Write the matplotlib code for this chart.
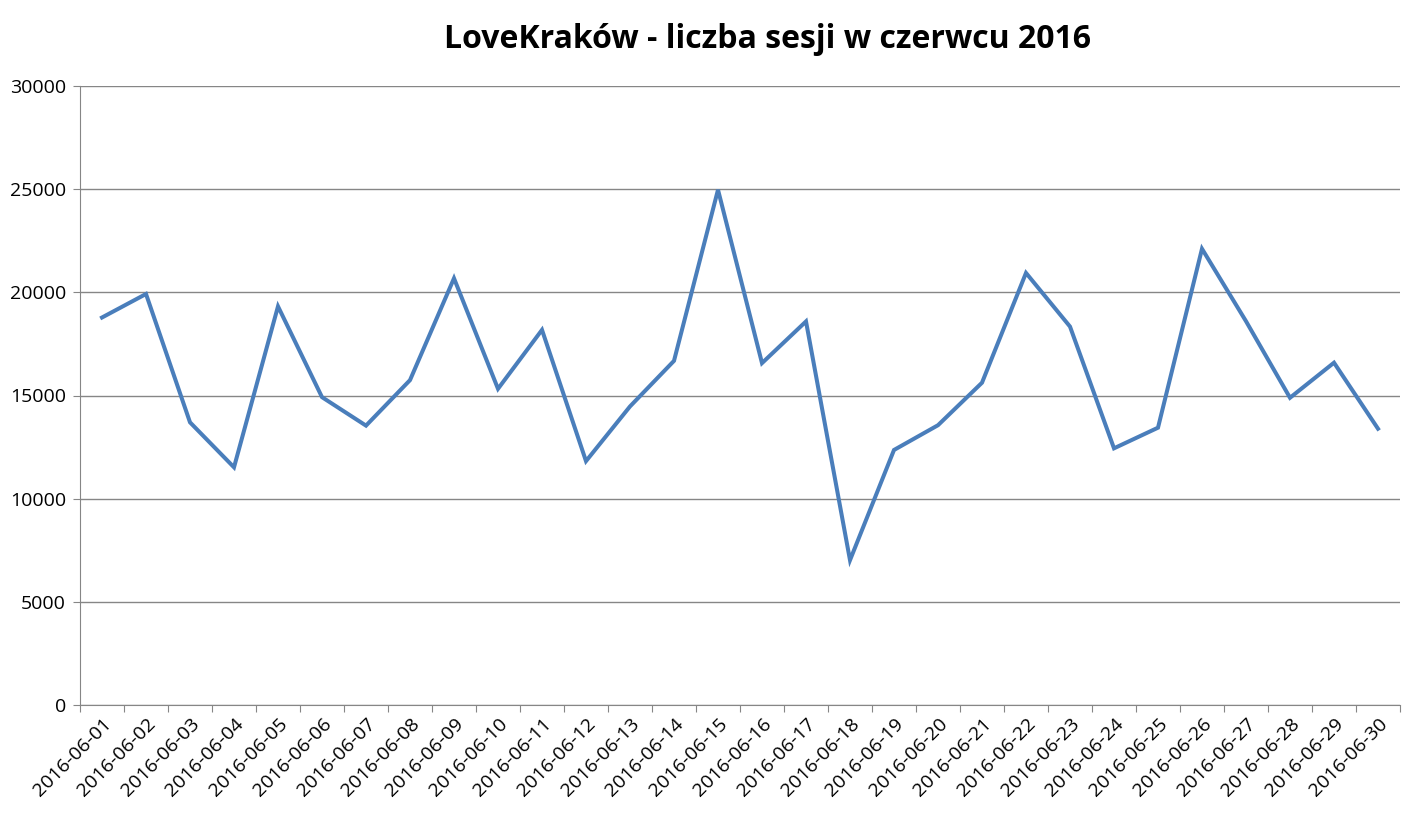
import numpy as np
import matplotlib.pyplot as plt

# dzienna liczba sesji, czerwiec 2016
days = ['2016-06-%02d' % d for d in range(1, 31)]
sessions = [18780, 19920, 13700, 11520, 19320, 14920, 13540, 15745, 20680, 15325,
            18180, 11820, 14470, 16680, 24970, 16570, 18590, 7020, 12360, 13560,
            15620, 20940, 18340, 12440, 13440, 22110, 18600, 14890, 16590, 13390]
yticks = [0, 5000, 10000, 15000, 20000, 25000, 30000]
title = 'LoveKraków - liczba sesji w czerwcu 2016'

plt.rcParams['font.family'] = ['Open Sans', 'DejaVu Sans']

fig = plt.figure(figsize=(14.19, 8.15), dpi=100)
ax = fig.add_axes([80/1419, 1 - 705/815, 1320/1419, 619/815])

x = np.arange(len(days))
ax.plot(x, sessions, color='#4A7EBB', lw=2.9, solid_joinstyle='miter')

ax.set_ylim(0, 30000)
ax.set_xlim(-0.5, len(days) - 0.5)
ax.set_yticks(yticks)
ax.set_yticklabels([str(v) for v in yticks], fontsize=14)

# ticks between categories, labels in the middle (Excel style)
ax.set_xticks(np.arange(len(days) + 1) - 0.5)
ax.set_xticklabels([])
ax.set_xticks(x, minor=True)
ax.set_xticklabels(days, minor=True, rotation=45, ha='right',
                   rotation_mode='anchor', fontsize=14)
ax.tick_params(axis='x', which='minor', length=0, pad=7)
ax.tick_params(axis='x', which='major', length=5, color='#868686')
ax.tick_params(axis='y', length=5, color='#868686', pad=5)

ax.yaxis.grid(True, color='#868686', lw=1)
ax.set_axisbelow(True)
for s in ['top', 'right']:
    ax.spines[s].set_visible(False)
for s in ['left', 'bottom']:
    ax.spines[s].set_color('#868686')

fig.text(0.541, 1 - 39/815, title, ha='center', va='center',
         fontsize=23, fontweight='bold')

fig.savefig('out.png', dpi=100)
